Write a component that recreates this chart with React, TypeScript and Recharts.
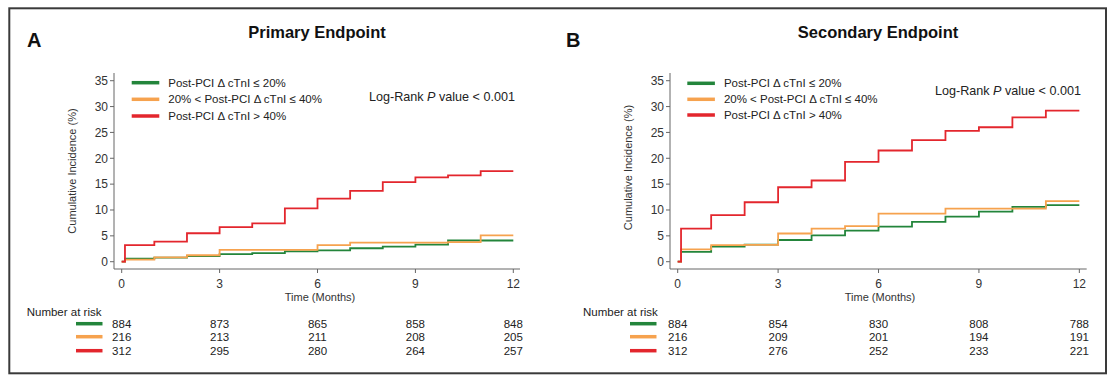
import React from 'react';
import { LineChart, Line, XAxis, YAxis } from 'recharts';

// ---------- data ----------
const TIMES = [0, 0.1, 1, 2, 3, 4, 5, 6, 7, 8, 9, 10, 11, 12];

const PRIMARY_GREEN = [0, 0.6, 0.8, 1.1, 1.45, 1.65, 2.0, 2.2, 2.6, 2.9, 3.3, 4.1, 4.1, 4.1];
const PRIMARY_ORANGE = [0, 0.4, 0.85, 1.25, 2.3, 2.3, 2.3, 3.2, 3.7, 3.7, 3.7, 3.8, 5.1, 5.1];
const PRIMARY_RED = [0, 3.2, 3.9, 5.5, 6.7, 7.4, 10.3, 12.2, 13.7, 15.4, 16.3, 16.7, 17.5, 17.5];

const SECONDARY_GREEN = [0, 1.9, 2.9, 3.3, 4.2, 5.1, 6.0, 6.8, 7.7, 8.7, 9.7, 10.6, 10.95, 10.95];
const SECONDARY_ORANGE = [0, 2.4, 3.2, 3.25, 5.45, 6.4, 6.9, 9.3, 9.3, 10.25, 10.25, 10.25, 11.7, 11.7];
const SECONDARY_RED = [0, 6.4, 9.0, 11.5, 14.4, 15.7, 19.3, 21.5, 23.5, 25.3, 26.0, 27.9, 29.2, 29.2];

const X_TICKS = [0, 3, 6, 9, 12];
const Y_TICKS = [0, 5, 10, 15, 20, 25, 30, 35];

const RISK_A_GREEN = [884, 873, 865, 858, 848];
const RISK_A_ORANGE = [216, 213, 211, 208, 205];
const RISK_A_RED = [312, 295, 280, 264, 257];

const RISK_B_GREEN = [884, 854, 830, 808, 788];
const RISK_B_ORANGE = [216, 209, 201, 194, 191];
const RISK_B_RED = [312, 276, 252, 233, 221];

const LEGEND_LABELS = [
  'Post-PCI \u0394 cTnI \u2264 20%',
  '20% < Post-PCI \u0394 cTnI \u2264 40%',
  'Post-PCI \u0394 cTnI > 40%',
];

// ---------- styles ----------
const FONT = '"Liberation Sans", Arial, Helvetica, sans-serif';
const GREEN = '#23853b';
const ORANGE = '#f6a24e';
const RED = '#e3262d';
const COLORS = [GREEN, ORANGE, RED];
const AXIS = '#666666';

type PanelProps = {
  left: number;
  width: number;
  marginRight: number;
  domainX: [number, number];
  green: number[];
  orange: number[];
  red: number[];
  riskGreen: number[];
  riskOrange: number[];
  riskRed: number[];
};

function Panel(p: PanelProps) {
  const data = TIMES.map((t, i) => ({ t, g: p.green[i], o: p.orange[i], r: p.red[i] }));
  const riskFmt = (arr: number[]) => (v: number) => {
    const idx = X_TICKS.indexOf(v);
    return idx >= 0 ? String(arr[idx]) : '';
  };
  const riskTick = { fontSize: 11.5, fill: '#222', fontFamily: FONT };
  return (
    <div style={{ position: 'absolute', left: p.left, top: 0, width: p.width, height: 384 }}>
      <LineChart
        width={p.width}
        height={384}
        data={data}
        margin={{ top: 73, right: p.marginRight, bottom: 24, left: 74 }}
      >
        <XAxis
          xAxisId="main"
          dataKey="t"
          type="number"
          domain={p.domainX}
          allowDataOverflow
          ticks={X_TICKS}
          height={50}
          tickSize={4}
          tickMargin={6}
          stroke={AXIS}
          tick={{ fontSize: 12, fill: '#333', fontFamily: FONT }}
        />
        <XAxis
          xAxisId="r1"
          dataKey="t"
          type="number"
          domain={p.domainX}
          allowDataOverflow
          ticks={X_TICKS}
          height={13}
          tickSize={0}
          tickMargin={0.5}
          axisLine={false}
          tickLine={false}
          tickFormatter={riskFmt(p.riskGreen)}
          tick={riskTick}
        />
        <XAxis
          xAxisId="r2"
          dataKey="t"
          type="number"
          domain={p.domainX}
          allowDataOverflow
          ticks={X_TICKS}
          height={14}
          tickSize={0}
          tickMargin={0.5}
          axisLine={false}
          tickLine={false}
          tickFormatter={riskFmt(p.riskOrange)}
          tick={riskTick}
        />
        <XAxis
          xAxisId="r3"
          dataKey="t"
          type="number"
          domain={p.domainX}
          allowDataOverflow
          ticks={X_TICKS}
          height={14}
          tickSize={0}
          tickMargin={0.5}
          axisLine={false}
          tickLine={false}
          tickFormatter={riskFmt(p.riskRed)}
          tick={riskTick}
        />
        <YAxis
          type="number"
          domain={[-1.41, 36.49]}
          allowDataOverflow
          ticks={Y_TICKS}
          width={40}
          tickSize={4}
          tickMargin={2}
          stroke={AXIS}
          tick={{ fontSize: 12, fill: '#333', fontFamily: FONT }}
        />
        <Line xAxisId="main" type="stepAfter" dataKey="g" stroke={GREEN} strokeWidth={1.8} dot={false} isAnimationActive={false} />
        <Line xAxisId="main" type="stepAfter" dataKey="o" stroke={ORANGE} strokeWidth={1.8} dot={false} isAnimationActive={false} />
        <Line xAxisId="main" type="stepAfter" dataKey="r" stroke={RED} strokeWidth={1.8} dot={false} isAnimationActive={false} />
      </LineChart>
    </div>
  );
}

function Legend({ x, ys }: { x: number; ys: number[] }) {
  return (
    <g>
      {LEGEND_LABELS.map((lab, i) => (
        <g key={lab}>
          <line x1={x} x2={x + 27.6} y1={ys[i]} y2={ys[i]} stroke={COLORS[i]} strokeWidth={3.5} />
          <text x={x + 36.6} y={ys[i] + 4.1} fontSize={11.5} fill="#222" fontFamily={FONT}>
            {lab}
          </text>
        </g>
      ))}
    </g>
  );
}

function LogRank({ x, y }: { x: number; y: number }) {
  return (
    <text x={x} y={y} fontSize={12.6} fill="#222" fontFamily={FONT}>
      Log-Rank <tspan fontStyle="italic">P</tspan> value &lt; 0.001
    </text>
  );
}

function RiskHeader({ x, swX }: { x: number; swX: number }) {
  const ys = [323.7, 336.7, 350.7];
  return (
    <g>
      <text x={x} y={315.8} fontSize={11.5} fill="#222" fontFamily={FONT}>
        Number at risk
      </text>
      {ys.map((y, i) => (
        <line key={i} x1={swX} x2={swX + 26.5} y1={y} y2={y} stroke={COLORS[i]} strokeWidth={3.5} />
      ))}
    </g>
  );
}

export default function App() {
  return (
    <div style={{ position: 'absolute', left: 0, top: 0, width: 1116, height: 384, background: '#fff', fontFamily: FONT }}>
      <Panel
        left={0}
        width={556}
        marginRight={36}
        domainX={[-0.236, 12.205]}
        green={PRIMARY_GREEN}
        orange={PRIMARY_ORANGE}
        red={PRIMARY_RED}
        riskGreen={RISK_A_GREEN}
        riskOrange={RISK_A_ORANGE}
        riskRed={RISK_A_RED}
      />
      <Panel
        left={556}
        width={560}
        marginRight={29.3}
        domainX={[-0.23, 12.22]}
        green={SECONDARY_GREEN}
        orange={SECONDARY_ORANGE}
        red={SECONDARY_RED}
        riskGreen={RISK_B_GREEN}
        riskOrange={RISK_B_ORANGE}
        riskRed={RISK_B_RED}
      />
      <svg
        width={1116}
        height={384}
        style={{ position: 'absolute', left: 0, top: 0, pointerEvents: 'none' }}
      >
        <rect x={9.3} y={8.3} width={1096.7} height={365} fill="none" stroke="#3a3a3a" strokeWidth={2} />
        <text x={27} y={46.5} fontSize={20} fontWeight="bold" fill="#111" fontFamily={FONT}>A</text>
        <text x={566} y={46.5} fontSize={20} fontWeight="bold" fill="#111" fontFamily={FONT}>B</text>
        <text x={317} y={37.6} fontSize={16.5} fontWeight="bold" fill="#111" textAnchor="middle" fontFamily={FONT}>
          Primary Endpoint
        </text>
        <text x={878} y={37.6} fontSize={16.5} fontWeight="bold" fill="#111" textAnchor="middle" fontFamily={FONT}>
          Secondary Endpoint
        </text>
        <Legend x={131.7} ys={[82.7, 99.3, 116]} />
        <Legend x={687.3} ys={[83.3, 99.3, 115]} />
        <LogRank x={369} y={100.5} />
        <LogRank x={935} y={94.5} />
        <text
          x={71.7}
          y={171}
          fontSize={11}
          fill="#333"
          textAnchor="middle"
          dominantBaseline="central"
          transform="rotate(-90 71.7 171)"
          fontFamily={FONT}
        >
          Cumulative Incidence (%)
        </text>
        <text
          x={628.3}
          y={167.5}
          fontSize={11}
          fill="#333"
          textAnchor="middle"
          dominantBaseline="central"
          transform="rotate(-90 628.3 167.5)"
          fontFamily={FONT}
        >
          Cumulative Incidence (%)
        </text>
        <text x={320} y={301} fontSize={11} fill="#333" textAnchor="middle" fontFamily={FONT}>Time (Months)</text>
        <text x={880} y={301} fontSize={11} fill="#333" textAnchor="middle" fontFamily={FONT}>Time (Months)</text>
        <RiskHeader x={26.7} swX={76} />
        <RiskHeader x={583} swX={630} />
      </svg>
    </div>
  );
}
